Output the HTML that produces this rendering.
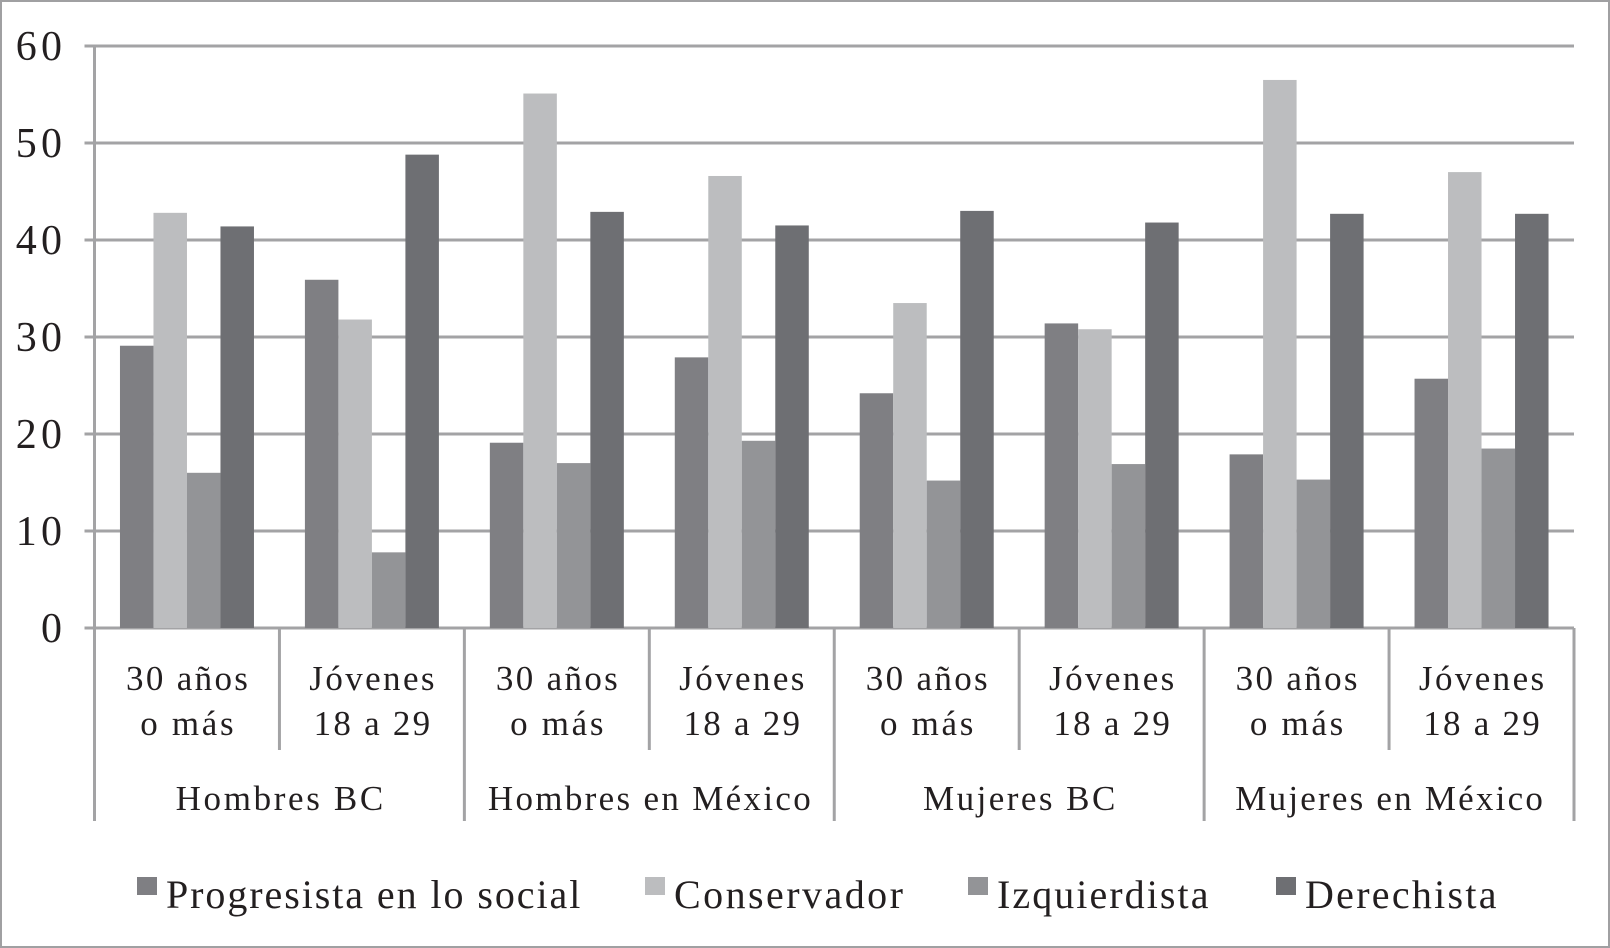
<!DOCTYPE html>
<html><head><meta charset="utf-8"><style>
html,body{margin:0;padding:0;background:#fff}
svg{display:block}
text{font-family:"Liberation Serif",serif;fill:#231f20}
</style></head><body>
<svg id="chart" width="1610" height="948" viewBox="0 0 1610 948" xmlns="http://www.w3.org/2000/svg">
<rect x="1" y="1" width="1608" height="946" fill="#fff" stroke="#a0a0a2" stroke-width="2"/>
<g id="grid"></g><g id="bars"></g><g id="axis"></g><g id="legend"></g>
</svg>
<script>
const subCategories = ["30 años|o más","Jóvenes|18 a 29","30 años|o más","Jóvenes|18 a 29","30 años|o más","Jóvenes|18 a 29","30 años|o más","Jóvenes|18 a 29"];
const groups = ["Hombres BC","Hombres en México","Mujeres BC","Mujeres en México"];
const seriesNames = ["Progresista en lo social","Conservador","Izquierdista","Derechista"];
const progresista = [29.1,35.9,19.1,27.9,24.2,31.4,17.9,25.7];
const conservador = [42.8,31.8,55.1,46.6,33.5,30.8,56.5,47.0];
const izquierdista = [16.0,7.8,17.0,19.3,15.2,16.9,15.3,18.5];
const derechista = [41.4,48.8,42.9,41.5,43.0,41.8,42.7,42.7];
const yTicks = [0,10,20,30,40,50,60];

const NS="http://www.w3.org/2000/svg";
const colors=["#7f7f83","#bcbdbf","#939497","#6e6f73"];
const L=94.5,R=1574,T=46,B=628,yMax=60;
const y=v=>B-(v/yMax)*(B-T);
const gw=(R-L)/subCategories.length, bw=33.5, pad=(gw-4*bw)/2;
function mk(tag,attrs,parent){const e=document.createElementNS(NS,tag);for(const k in attrs)e.setAttribute(k,attrs[k]);parent.appendChild(e);return e;}
function stretch(t,f){const w=t.getComputedTextLength();t.setAttribute('textLength',w*f);}
const grid=document.getElementById('grid'),bars=document.getElementById('bars'),axis=document.getElementById('axis'),legend=document.getElementById('legend');
yTicks.forEach(t=>{
  const l=mk('line',{x1:L-10,x2:R,y1:y(t),y2:y(t),stroke:'#a3a3a5','stroke-width':3},grid);
  
  
  const tx=mk('text',{x:62,y:y(t)+14,'text-anchor':'end','font-size':42},axis);
  tx.textContent=t;
  
  
  stretch(tx,1.1);
});
const all=[progresista,conservador,izquierdista,derechista];
all.forEach((arr,s)=>{arr.forEach((v,i)=>{
  const r=mk('rect',{x:L+i*gw+pad+s*bw,y:y(v),width:bw,height:B-y(v),fill:colors[s]},bars);
  
  
});});
const ya=mk('line',{x1:L,x2:L,y1:T,y2:821,stroke:'#a3a3a5','stroke-width':3},axis);


for(let i=1;i<=subCategories.length;i++){
  const big=(i%2===0);
  const d=mk('line',{x1:L+i*gw,x2:L+i*gw,y1:B,y2:big?821:750,stroke:'#a3a3a5','stroke-width':3},axis);
  
  
}
subCategories.forEach((c,i)=>{
  const cx=L+(i+0.5)*gw;
  c.split('|').forEach((ln,j)=>{
    const t=mk('text',{x:cx,y:690+j*45,'text-anchor':'middle','font-size':35},axis);
    t.textContent=ln;
    
    
    stretch(t,1.13);
  });
});
groups.forEach((g,i)=>{
  const t=mk('text',{x:L+(i*2+1)*gw,y:810,'text-anchor':'middle','font-size':35},axis);
  t.textContent=g;
  
  
  stretch(t,1.13);
});
const lx=[137,645,968,1276];
seriesNames.forEach((n,i)=>{
  const r=mk('rect',{x:lx[i],y:877,width:20,height:18,fill:colors[i]},legend);
  
  
  const t=mk('text',{x:lx[i]+29,y:908,'font-size':40},legend);
  t.textContent=n;
  
  
  stretch(t,1.12);
});
</script>
</body></html>
